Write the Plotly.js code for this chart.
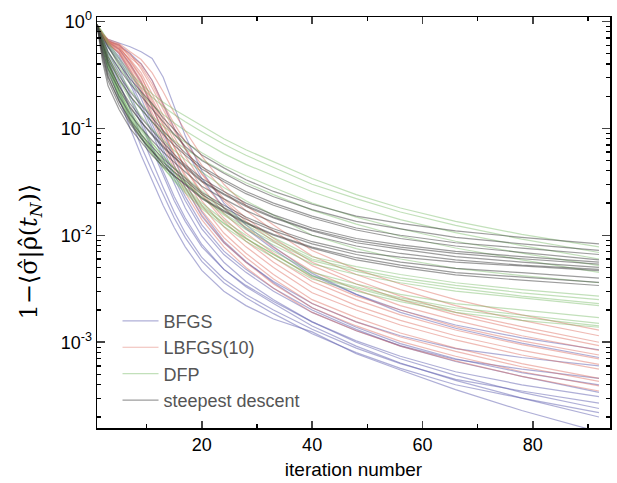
<!DOCTYPE html>
<html>
<head>
<meta charset="utf-8">
<script src="https://cdn.plot.ly/plotly-3.0.1.min.js"></script>
<style>html,body{margin:0;padding:0;background:#fff;}#chart{width:617px;height:483px;}</style>
</head>
<body>
<div id="chart"></div>
<script>
// Iteration numbers at which the curves are sampled
const iters = [1,2,3,5,7,9,11,13,15,17,20,24,28,33,40,48,56,66,78,92];

// BFGS runs
const bfgsRuns = [
 [0.93,0.76,0.66,0.60,0.50,0.40,0.28,0.17,0.10,0.064,0.034,0.018,0.0115,0.0074,0.0042,0.0028,0.0020,0.00145,0.00110,0.00085],
 [0.93,0.74,0.68,0.63,0.58,0.52,0.45,0.30,0.16,0.085,0.040,0.020,0.0125,0.0078,0.0044,0.0028,0.0019,0.00135,0.00098,0.00072],
 [0.92,0.72,0.62,0.50,0.34,0.22,0.13,0.075,0.045,0.028,0.015,0.0085,0.0056,0.0037,0.0023,0.00155,0.00115,0.00087,0.00072,0.00060],
 [0.93,0.70,0.58,0.45,0.28,0.17,0.10,0.058,0.034,0.021,0.0115,0.0066,0.0045,0.0030,0.0019,0.00128,0.00093,0.00069,0.00056,0.00046],
 [0.92,0.75,0.64,0.55,0.40,0.27,0.16,0.090,0.052,0.031,0.0165,0.0088,0.0057,0.0036,0.0021,0.00138,0.00097,0.00070,0.00052,0.00040],
 [0.93,0.66,0.50,0.33,0.19,0.11,0.063,0.036,0.021,0.0135,0.0078,0.0048,0.0034,0.0024,0.00155,0.00103,0.00074,0.00053,0.00040,0.00031],
 [0.92,0.62,0.45,0.27,0.15,0.085,0.048,0.028,0.0165,0.0105,0.0062,0.0039,0.0028,0.0020,0.00132,0.00088,0.00063,0.00045,0.00035,0.00027],
 [0.93,0.71,0.57,0.42,0.26,0.155,0.09,0.052,0.030,0.018,0.0098,0.0056,0.0037,0.0025,0.00155,0.00100,0.00070,0.00049,0.00034,0.00024],
 [0.92,0.58,0.40,0.22,0.12,0.068,0.040,0.024,0.0145,0.0095,0.0057,0.0036,0.0026,0.00185,0.00120,0.00080,0.00057,0.00040,0.00030,0.00022],
 [0.93,0.68,0.52,0.36,0.21,0.12,0.068,0.039,0.023,0.0145,0.0082,0.0048,0.0033,0.0023,0.00142,0.00092,0.00064,0.00044,0.00030,0.00020],
 [0.92,0.55,0.36,0.19,0.10,0.056,0.032,0.019,0.0118,0.0078,0.0047,0.0030,0.0022,0.00165,0.00125,0.00078,0.00055,0.00036,0.00023,0.000145],
 [0.93,0.73,0.60,0.47,0.31,0.19,0.11,0.064,0.037,0.023,0.0125,0.0071,0.0048,0.0032,0.0020,0.00132,0.00092,0.00066,0.00048,0.00034]
];

// LBFGS(10) runs
const lbfgsRuns = [
 [0.93,0.78,0.68,0.62,0.52,0.44,0.33,0.22,0.14,0.095,0.055,0.030,0.019,0.0125,0.0072,0.0048,0.0035,0.0025,0.0018,0.0013],
 [0.93,0.75,0.66,0.60,0.48,0.40,0.28,0.17,0.11,0.075,0.045,0.026,0.017,0.0110,0.0064,0.0043,0.0031,0.0022,0.0016,0.00115],
 [0.92,0.77,0.67,0.58,0.50,0.36,0.24,0.15,0.095,0.064,0.038,0.022,0.0145,0.0094,0.0056,0.0038,0.0027,0.0019,0.0014,0.0010],
 [0.93,0.74,0.64,0.61,0.46,0.38,0.26,0.16,0.10,0.066,0.037,0.021,0.0135,0.0088,0.0052,0.0035,0.0025,0.0018,0.0013,0.00093],
 [0.92,0.76,0.66,0.56,0.44,0.33,0.21,0.13,0.083,0.055,0.032,0.018,0.0118,0.0077,0.0046,0.0031,0.0022,0.0016,0.00115,0.00084],
 [0.93,0.73,0.63,0.59,0.42,0.30,0.19,0.12,0.074,0.048,0.028,0.016,0.0105,0.0068,0.0040,0.0027,0.0020,0.0014,0.00103,0.00076],
 [0.92,0.75,0.65,0.55,0.40,0.28,0.17,0.105,0.066,0.043,0.025,0.0145,0.0095,0.0062,0.0037,0.0025,0.0018,0.0013,0.00095,0.00070],
 [0.93,0.72,0.62,0.57,0.43,0.31,0.18,0.11,0.068,0.042,0.024,0.0135,0.0088,0.0056,0.0033,0.0022,0.0016,0.00115,0.00084,0.00062],
 [0.92,0.74,0.64,0.53,0.38,0.26,0.155,0.095,0.058,0.037,0.021,0.0120,0.0078,0.0050,0.0029,0.0020,0.00145,0.00105,0.00076,0.00056],
 [0.93,0.71,0.61,0.55,0.39,0.27,0.16,0.094,0.056,0.035,0.019,0.0105,0.0068,0.0043,0.0025,0.0017,0.00122,0.00088,0.00063,0.00046],
 [0.92,0.73,0.63,0.51,0.36,0.24,0.14,0.083,0.050,0.031,0.017,0.0095,0.0062,0.0039,0.0023,0.00155,0.00112,0.00082,0.00059,0.00043],
 [0.93,0.70,0.60,0.52,0.35,0.23,0.13,0.076,0.045,0.028,0.0155,0.0086,0.0056,0.0035,0.0021,0.00142,0.00102,0.00074,0.00053,0.00039],
 [0.92,0.72,0.62,0.50,0.33,0.21,0.12,0.070,0.041,0.025,0.0140,0.0078,0.0050,0.0032,0.0019,0.00128,0.00092,0.00067,0.00048,0.00035]
];

// DFP runs
const dfpRuns = [
 [0.93,0.80,0.65,0.45,0.33,0.26,0.21,0.175,0.15,0.13,0.105,0.080,0.063,0.049,0.034,0.024,0.018,0.0135,0.0102,0.0078],
 [0.93,0.78,0.62,0.42,0.31,0.24,0.195,0.16,0.135,0.115,0.093,0.071,0.056,0.043,0.030,0.022,0.0165,0.0124,0.0092,0.0069],
 [0.92,0.74,0.58,0.38,0.27,0.21,0.165,0.135,0.112,0.095,0.076,0.058,0.046,0.036,0.0255,0.0185,0.014,0.0106,0.0080,0.0060],
 [0.93,0.70,0.52,0.33,0.23,0.17,0.13,0.105,0.087,0.074,0.059,0.045,0.036,0.028,0.020,0.0148,0.0115,0.0088,0.0068,0.0052],
 [0.92,0.66,0.47,0.29,0.20,0.15,0.115,0.092,0.076,0.064,0.051,0.039,0.031,0.024,0.0172,0.0127,0.0098,0.0076,0.0059,0.0045],
 [0.93,0.70,0.48,0.28,0.185,0.13,0.098,0.077,0.062,0.051,0.039,0.028,0.021,0.0155,0.0100,0.0075,0.0060,0.0049,0.0042,0.0036],
 [0.92,0.60,0.40,0.22,0.14,0.098,0.072,0.055,0.043,0.035,0.026,0.018,0.0132,0.0095,0.0063,0.0051,0.0043,0.0036,0.0031,0.0027],
 [0.93,0.66,0.44,0.24,0.15,0.102,0.073,0.054,0.042,0.033,0.0245,0.0170,0.0125,0.0090,0.0060,0.0048,0.0040,0.0034,0.0029,0.0025],
 [0.92,0.56,0.37,0.20,0.125,0.087,0.064,0.049,0.038,0.031,0.023,0.016,0.0118,0.0086,0.0058,0.0046,0.0038,0.0032,0.0027,0.0023],
 [0.93,0.62,0.42,0.23,0.14,0.095,0.068,0.050,0.039,0.031,0.0225,0.0155,0.0113,0.0081,0.0054,0.0043,0.0036,0.0030,0.0026,0.0022],
 [0.92,0.58,0.38,0.21,0.13,0.087,0.062,0.046,0.035,0.028,0.020,0.0138,0.0100,0.0071,0.0045,0.0035,0.0028,0.0023,0.0020,0.0017],
 [0.93,0.54,0.35,0.19,0.118,0.080,0.058,0.043,0.033,0.026,0.0185,0.0128,0.0093,0.0066,0.0042,0.0033,0.0026,0.0021,0.0018,0.0015],
 [0.92,0.64,0.42,0.22,0.135,0.090,0.063,0.046,0.035,0.027,0.0192,0.0130,0.0094,0.0066,0.0041,0.0032,0.0025,0.0020,0.0017,0.00142],
 [0.93,0.60,0.39,0.20,0.122,0.082,0.058,0.043,0.032,0.025,0.0178,0.0121,0.0088,0.0062,0.0039,0.0030,0.0024,0.0019,0.0016,0.00138]
];

// steepest descent runs
const sdRuns = [
 [0.93,0.74,0.58,0.40,0.29,0.22,0.17,0.125,0.097,0.0759,0.0562,0.0427,0.0331,0.0257,0.0195,0.0151,0.0129,0.0110,0.00955,0.00832],
 [0.92,0.70,0.52,0.36,0.26,0.20,0.15,0.115,0.088,0.0676,0.0501,0.0380,0.0295,0.0229,0.0174,0.0135,0.0115,0.00955,0.00832,0.00724],
 [0.92,0.66,0.47,0.31,0.22,0.165,0.125,0.095,0.074,0.0589,0.0437,0.0331,0.0257,0.0200,0.0151,0.0117,0.0100,0.00851,0.00759,0.00661],
 [0.93,0.62,0.44,0.29,0.20,0.15,0.115,0.088,0.069,0.0562,0.0417,0.0316,0.0245,0.0191,0.0145,0.0112,0.00933,0.00794,0.00692,0.00589],
 [0.92,0.58,0.40,0.25,0.17,0.125,0.095,0.073,0.057,0.0457,0.0339,0.0257,0.0200,0.0155,0.0117,0.00933,0.00813,0.00708,0.00631,0.00562],
 [0.93,0.55,0.36,0.23,0.155,0.115,0.088,0.068,0.054,0.0437,0.0324,0.0245,0.0191,0.0148,0.0112,0.00891,0.00776,0.00676,0.00603,0.00537],
 [0.92,0.63,0.42,0.25,0.16,0.115,0.086,0.066,0.053,0.0427,0.0316,0.0240,0.0186,0.0145,0.0110,0.00851,0.00741,0.00631,0.00562,0.00501],
 [0.93,0.52,0.33,0.20,0.135,0.10,0.077,0.060,0.048,0.0389,0.0288,0.0219,0.0170,0.0132,0.0100,0.00794,0.00676,0.00589,0.00525,0.00479],
 [0.92,0.48,0.30,0.18,0.12,0.088,0.067,0.052,0.042,0.0339,0.0251,0.0191,0.0148,0.0115,0.00871,0.00700,0.00624,0.00562,0.00513,0.00468],
 [0.93,0.45,0.28,0.165,0.11,0.08,0.061,0.048,0.039,0.0324,0.0240,0.0182,0.0141,0.0110,0.00832,0.00661,0.00562,0.00490,0.00447,0.00398],
 [0.92,0.42,0.25,0.15,0.10,0.074,0.056,0.044,0.036,0.0302,0.0224,0.0170,0.0132,0.0102,0.00776,0.00617,0.00525,0.00447,0.00407,0.00363],
 [0.93,0.50,0.31,0.18,0.115,0.082,0.061,0.046,0.036,0.0295,0.0219,0.0166,0.0129,0.0100,0.00759,0.00589,0.00501,0.00427,0.00380,0.00339]
];

const methodNames = ['BFGS', 'LBFGS(10)', 'DFP', 'steepest descent'];
const methodRuns = [bfgsRuns, lbfgsRuns, dfpRuns, sdRuns];
const methodColors = ['rgba(95,95,175,0.5)', 'rgba(220,105,90,0.45)', 'rgba(110,180,90,0.42)', 'rgba(60,60,60,0.5)'];

// axis tick labels and titles
const xTickVals = [20, 40, 60, 80];
const yTickVals = [1, 0.1, 0.01, 0.001];
const yTickText = ['10<sup>0</sup>', '10<sup>-1</sup>', '10<sup>-2</sup>', '10<sup>-3</sup>'];
const xTitle = 'iteration number';
const yTitle = '1−⟨σ̂|ρ̂(<i>t<sub>N</sub></i>)⟩';
const yMinorVals = [];
[1, 0.1, 0.01, 0.001, 0.0001].forEach(function (d) {
  for (let k = 2; k <= 9; k++) { const v = k * d; if (v < 1) yMinorVals.push(v); }
});

const traces = [];
methodRuns.forEach(function (runs, m) {
  runs.forEach(function (vals, i) {
    traces.push({
      x: iters, y: vals, type: 'scatter', mode: 'lines',
      line: {color: methodColors[m], width: 1.2},
      name: methodNames[m], legendgroup: methodNames[m],
      showlegend: i === 0, hoverinfo: 'skip'
    });
  });
});

const layout = {
  width: 617, height: 483,
  margin: {l: 97, r: 7, t: 17, b: 55},
  paper_bgcolor: '#fff', plot_bgcolor: '#fff',
  font: {family: 'Liberation Sans, Arial, sans-serif', color: '#000', size: 18},
  showlegend: true,
  legend: {x: 0.04, y: 0.305, xanchor: 'left', yanchor: 'top', bgcolor: 'rgba(0,0,0,0)',
           font: {size: 18, color: '#555'}, tracegroupgap: 0, traceorder: 'grouped', itemwidth: 36},
  xaxis: {
    range: [1, 94], tickvals: xTickVals, ticks: 'inside', ticklen: 7, tickwidth: 1.5,
    showline: true, linewidth: 1.5, linecolor: '#000', mirror: 'ticks', showgrid: false, zeroline: false,
    minor: {dtick: 10, tick0: 0, ticks: 'inside', ticklen: 4, tickwidth: 1.2, tickcolor: '#000', showgrid: false},
    title: {text: xTitle, font: {size: 19}, standoff: 8},
    tickfont: {size: 18}
  },
  yaxis: {
    type: 'log', range: [-3.802, 0.041], tickvals: yTickVals, ticktext: yTickText,
    ticks: 'inside', ticklen: 8, tickwidth: 1.5,
    showline: true, linewidth: 1.5, linecolor: '#000', mirror: 'ticks', showgrid: false, zeroline: false,
    minor: {tickvals: yMinorVals, ticks: 'inside', ticklen: 4, tickwidth: 1.2, tickcolor: '#000', showgrid: false},
    tickfont: {size: 18}
  },
  annotations: [{
    text: yTitle, xref: 'paper', yref: 'paper', x: -0.13, y: 0.43,
    xanchor: 'center', yanchor: 'middle', textangle: -90, showarrow: false,
    font: {family: 'DejaVu Serif, Liberation Serif, serif', size: 24, color: '#000'}
  }]
};

Plotly.newPlot('chart', traces, layout, {displayModeBar: false, staticPlot: true});
</script>
</body>
</html>
